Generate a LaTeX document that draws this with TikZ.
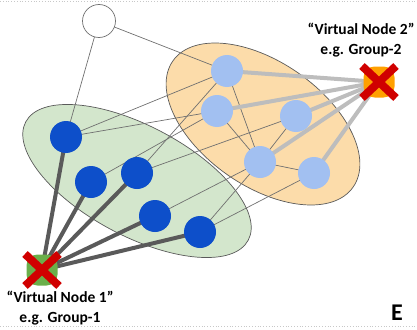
\documentclass[tikz,border=0pt]{standalone}
\usepackage{fontspec}
\setmainfont{Carlito}
\usetikzlibrary{shapes.geometric}
\pgfdeclarelayer{back}
\pgfdeclarelayer{links}
\pgfsetlayers{back,links,main}

\definecolor{groupgreen}{HTML}{D3E6CC}
\definecolor{grouporange}{HTML}{FCDCAA}
\definecolor{darknode}{HTML}{0D4FCA}
\definecolor{lightnode}{HTML}{A2C0F1}
\definecolor{edgegray}{HTML}{707070}
\definecolor{thickdark}{HTML}{5A5A5A}
\definecolor{thicklight}{HTML}{BDBDBD}
\definecolor{crossred}{HTML}{D00000}
\definecolor{vgreen}{HTML}{6AAF4A}
\definecolor{vorange}{HTML}{FFA000}
\definecolor{framegray}{HTML}{C8C8C8}

\begin{document}
\begin{tikzpicture}[x=1pt,y=-1pt,
  group/.style={ellipse, draw=thickdark, line width=0.7pt, inner sep=0pt},
  dnode/.style={circle, fill=darknode, minimum size=32pt, inner sep=0pt},
  lnode/.style={circle, fill=lightnode, minimum size=32pt, inner sep=0pt},
  wnode/.style={circle, draw=edgegray, fill=white, line width=0.7pt, minimum size=33pt, inner sep=0pt},
  vnode/.style={rectangle, rounded corners=11pt, minimum size=31pt, inner sep=0pt},
  link/.style={draw=edgegray, line width=0.7pt},
  vlinkdark/.style={draw=thickdark, line width=4pt},
  vlinklight/.style={draw=thicklight, line width=4pt},
  cross/.style={draw=crossred, line width=8pt},
  label/.style={font=\bfseries\fontsize{15.5}{19.5}\selectfont, align=center, inner sep=0pt}
]
\useasboundingbox (0,0) rectangle (417,329);

% dotted frame lines
\draw[framegray, dotted, line width=0.8pt] (0,1) -- (417,1);
\draw[framegray, dotted, line width=0.8pt] (0,326) -- (417,326);

% group ellipses
\begin{pgfonlayer}{back}
  \node[group, fill=groupgreen, minimum width=252pt, minimum height=110pt, rotate=-28] (grp1) at (137,181) {};
  \node[group, fill=grouporange, minimum width=220pt, minimum height=124pt, rotate=-35] (grp2) at (263,124) {};
\end{pgfonlayer}

% group 1 members
\node[dnode] (b1) at (66,137) {};
\node[dnode] (b2) at (91,182) {};
\node[dnode] (b3) at (137,173) {};
\node[dnode] (b4) at (155,216) {};
\node[dnode] (b5) at (200,232) {};

% group 2 members
\node[lnode] (l1) at (227,71) {};
\node[lnode] (l2) at (217,111) {};
\node[lnode] (l3) at (296,116) {};
\node[lnode] (l4) at (260,162) {};
\node[lnode] (l5) at (314,173) {};

% ungrouped node
\node[wnode] (w) at (99,21) {};

% virtual nodes
\node[vnode, fill=vgreen] (v1) at (42,270) {};
\node[vnode, fill=vorange] (v2) at (379,82) {};
\foreach \v in {v1,v2} {
  \draw[cross] ([shift={(-17,-16)}]\v.center) -- ([shift={(17,16)}]\v.center);
  \draw[cross] ([shift={(-17,16)}]\v.center) -- ([shift={(17,-16)}]\v.center);
}

\begin{pgfonlayer}{links}
  % ordinary edges
  \foreach \a/\b in {w/b1, w/l1, b1/l1, b1/l2, b2/l2, b3/l1, b3/l3, b4/l4, b5/l4, b5/l5,
                     l1/l4, l2/l4, l3/l4, l4/l5}
    \draw[link] (\a.center) -- (\b.center);
  % virtual node edges
  \foreach \b in {b1,b2,b3,b4,b5}
    \draw[vlinkdark] (v1.center) -- (\b.center);
  \foreach \b in {l1,l2,l3,l4,l5}
    \draw[vlinklight] (v2.center) -- (\b.center);
\end{pgfonlayer}

% labels
\node[label] (t2) at (361,40) {“Virtual Node 2”\\e.g. Group-2};
\node[label] (t1) at (60,308) {“Virtual Node 1”\\e.g. Group-1};
\node[font=\bfseries\fontsize{24}{24}\selectfont, inner sep=0pt] (panel) at (397,313) {E};
\end{tikzpicture}
\end{document}
